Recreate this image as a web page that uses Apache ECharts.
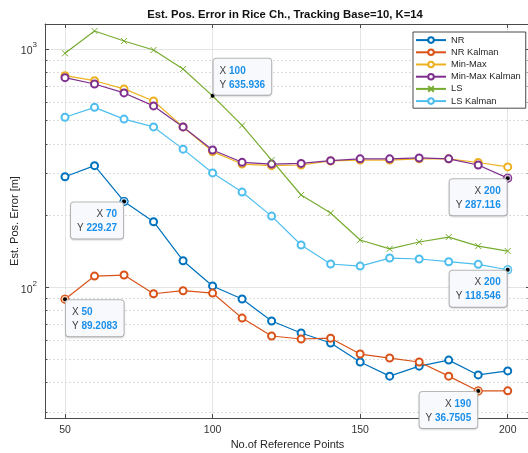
<!DOCTYPE html>
<html>
<head>
<meta charset="utf-8">
<script src="https://cdn.jsdelivr.net/npm/echarts@6/dist/echarts.min.js"></script>
<style>
  html, body { margin: 0; padding: 0; background: #fff; }
  #chart { width: 528px; height: 453px; }
</style>
</head>
<body>
<div id="chart"></div>
<script>
// Number of reference points (x) and estimated position error in metres (y)
const refPoints = [50, 60, 70, 80, 90, 100, 110, 120, 130, 140, 150, 160, 170, 180, 190, 200];

const nr           = [291, 324, 229.27, 188.5, 129.3, 101.3, 89.3, 72.2, 64.3, 58.4, 48.6, 42.4, 46.7, 49.5, 42.9, 44.6];
const nrKalman     = [89.2083, 111.5, 112.6, 94.0, 96.8, 94.6, 74.3, 62.5, 60.7, 61.2, 52.5, 50.5, 48.6, 42.4, 36.7505, 36.8];
const minMax       = [773, 736, 680, 605, 471, 371, 329, 324, 326, 339, 342, 342, 346, 346, 334, 320];
const minMaxKalman = [758, 713, 654, 577, 471, 377, 334.6, 329, 331, 340, 346, 346, 349, 346, 326, 287.116];
const ls           = [959, 1190, 1080, 990, 824, 635.936, 478, 342, 244, 205, 158, 145, 155, 162.5, 149, 142];
const lsKalman     = [517, 569, 508, 471, 380, 302, 251, 199, 150.5, 125.3, 122.8, 132.7, 131.5, 128.1, 124.9, 118.546];

// Axis ticks
const xTicks = [50, 100, 150, 200];
const yMajorTicks = [100, 1000];
const yMinorTicks = [30, 40, 50, 60, 70, 80, 90, 200, 300, 400, 500, 600, 700, 800, 900];

// Axis limits
const xMin = 43.22, xMax = 207.55;
const yMin = 28.3, yMax = 1273;

const font = '"Liberation Sans", Arial, Helvetica, sans-serif';
const axisColor = '#4a4a4a';
const gridColor = '#e4e4e4';
const minorGridColor = '#dcdcdc';

const seriesDefs = [
  { name: 'NR',             values: nr,           color: '#0072BD', tipFill: '#a9d3f0', marker: 'emptyCircle' },
  { name: 'NR Kalman',      values: nrKalman,     color: '#D95319', tipFill: '#f5c6a6', marker: 'emptyCircle' },
  { name: 'Min-Max',        values: minMax,       color: '#EDB120', tipFill: '#f7dd9c', marker: 'emptyCircle' },
  { name: 'Min-Max Kalman', values: minMaxKalman, color: '#7E2F8E', tipFill: '#d2b6da', marker: 'emptyCircle' },
  { name: 'LS',             values: ls,           color: '#77AC30', tipFill: null,      marker: 'path://M0,0L10,10M10,0L0,10' },
  { name: 'LS Kalman',      values: lsKalman,     color: '#4DBEEE', tipFill: '#bfe8f8', marker: 'emptyCircle' }
];

// Data tips: which series, at which x, and on which side of the point the box sits
const dataTips = [
  { series: 'LS',             x: 100, side: 'ne' },
  { series: 'NR',             x: 70,  side: 'sw' },
  { series: 'NR Kalman',      x: 50,  side: 'se' },
  { series: 'Min-Max Kalman', x: 200, side: 'sw' },
  { series: 'LS Kalman',      x: 200, side: 'sw' },
  { series: 'NR Kalman',      x: 190, side: 'sw' }
];

function tipMarks(def) {
  const marks = [];
  dataTips.filter(t => t.series === def.name).forEach(t => {
    const idx = refPoints.indexOf(t.x);
    const yVal = def.values[idx];
    const east = t.side.indexOf('e') >= 0;
    const north = t.side.indexOf('n') >= 0;
    const tokAlign = east ? 'left' : 'right';
    if (def.tipFill) {
      marks.push({
        coord: [t.x, yVal], symbol: 'circle', symbolSize: 8,
        itemStyle: { color: def.tipFill, borderColor: def.color, borderWidth: 1 },
        label: { show: false }
      });
    }
    marks.push({
      coord: [t.x, yVal], symbol: 'circle', symbolSize: 4,
      itemStyle: { color: '#000' },
      label: {
        show: true,
        position: [2 + (east ? 1 : -1), 2 + (north ? -1 : 1)],
        align: east ? 'left' : 'right',
        verticalAlign: north ? 'bottom' : 'top',
        formatter: '{k|X }{v|' + t.x + '}\n{k|Y }{v|' + yVal + '}',
        backgroundColor: '#f8f9fd',
        borderColor: '#b9b9b9',
        borderWidth: 1,
        borderRadius: 3,
        padding: [5, 6, 3, 6],
        shadowColor: 'rgba(0,0,0,0.12)',
        shadowBlur: 2,
        shadowOffsetY: 1,
        rich: {
          k: { fontFamily: font, fontSize: 10, color: '#404040', lineHeight: 14, align: tokAlign },
          v: { fontFamily: font, fontSize: 10, fontWeight: 'bold', color: '#1a8fea', lineHeight: 14, align: tokAlign }
        }
      }
    });
  });
  return marks;
}

const series = seriesDefs.map(def => ({
  name: def.name,
  type: 'line',
  xAxisIndex: 0,
  yAxisIndex: 0,
  data: refPoints.map((x, i) => [x, def.values[i]]),
  symbol: def.marker,
  symbolSize: def.marker === 'emptyCircle' ? 7 : 6,
  showAllSymbol: true,
  lineStyle: { color: def.color, width: 1.2 },
  itemStyle: { color: def.color, borderColor: def.color, borderWidth: 1 },
  emphasis: { disabled: true },
  markPoint: {
    silent: true,
    animation: false,
    data: tipMarks(def)
  }
}));

function logAxis(position, tickValues, tickLen, withLabels, splitStyle, showLine) {
  return {
    type: 'log',
    logBase: 10,
    position: position,
    min: yMin,
    max: yMax,
    axisLine: { show: showLine, onZero: false, lineStyle: { color: axisColor, width: 1 } },
    axisTick: { show: true, inside: true, length: tickLen, customValues: tickValues, lineStyle: { color: axisColor, width: 1 } },
    axisLabel: withLabels ? {
      show: true,
      customValues: tickValues,
      margin: 8,
      formatter: v => '{b|10}{s|' + Math.round(Math.log10(v)) + '}',
      rich: {
        b: { fontFamily: font, fontSize: 10.5, color: '#333', lineHeight: 16, verticalAlign: 'bottom' },
        s: { fontFamily: font, fontSize: 8, color: '#333', lineHeight: 16, verticalAlign: 'top' }
      }
    } : { show: false },
    splitLine: splitStyle ? { show: true, lineStyle: splitStyle } : { show: false }
  };
}

const yAxes = [
  Object.assign(logAxis('left', yMajorTicks, 4, true, { color: gridColor, width: 1, type: 'solid' }, true), {
    name: 'Est. Pos. Error [m]',
    nameLocation: 'middle',
    nameGap: 25,
    nameMoveOverlap: false,
    nameTextStyle: { fontFamily: font, fontSize: 11, color: '#262626' }
  }),
  logAxis('left', yMinorTicks, 2.5, false, { color: minorGridColor, width: 1, type: [2, 2] }, false),
  logAxis('right', yMajorTicks, 4, false, null, true),
  logAxis('right', yMinorTicks, 2.5, false, null, false)
];

const xAxes = [
  {
    type: 'value',
    position: 'bottom',
    min: xMin,
    max: xMax,
    axisLine: { show: true, onZero: false, lineStyle: { color: axisColor, width: 1 } },
    axisTick: { show: true, inside: true, length: 4, customValues: xTicks, lineStyle: { color: axisColor } },
    axisLabel: { show: true, customValues: xTicks, margin: 7, fontFamily: font, fontSize: 10.5, color: '#333' },
    splitLine: { show: true, lineStyle: { color: gridColor, width: 1 } },
    name: 'No.of Reference Points',
    nameLocation: 'middle',
    nameGap: 21,
    nameMoveOverlap: false,
    nameTextStyle: { fontFamily: font, fontSize: 11, color: '#262626', verticalAlign: 'top' }
  },
  {
    type: 'value',
    position: 'top',
    min: xMin,
    max: xMax,
    axisLine: { show: true, onZero: false, lineStyle: { color: axisColor, width: 1 } },
    axisTick: { show: true, inside: true, length: 4, customValues: xTicks, lineStyle: { color: axisColor } },
    axisLabel: { show: false },
    splitLine: { show: false }
  }
];

const chart = echarts.init(document.getElementById('chart'), null, { renderer: 'canvas' });
chart.setOption({
  animation: false,
  backgroundColor: '#fff',
  title: {
    text: 'Est. Pos. Error in Rice Ch., Tracking Base=10, K=14',
    left: 285,
    top: 9,
    padding: 0,
    textAlign: 'center',
    textStyle: { fontFamily: font, fontSize: 11.3, fontWeight: 'bold', color: '#111' }
  },
  legend: {
    orient: 'vertical',
    left: 413,
    top: 32,
    itemWidth: 30,
    itemHeight: 7,
    itemGap: 0,
    padding: [2, 5, 1, 2],
    backgroundColor: '#fff',
    borderColor: axisColor,
    borderWidth: 1,
    selectedMode: false,
    textStyle: { fontFamily: font, fontSize: 9.3, color: '#262626', lineHeight: 12.2 },
    data: seriesDefs.map(d => d.name)
  },
  grid: { left: 45, top: 24, right: -2, bottom: 35, containLabel: false, outerBoundsMode: 'none' },
  xAxis: xAxes,
  yAxis: yAxes,
  series: series
});
</script>
</body>
</html>
